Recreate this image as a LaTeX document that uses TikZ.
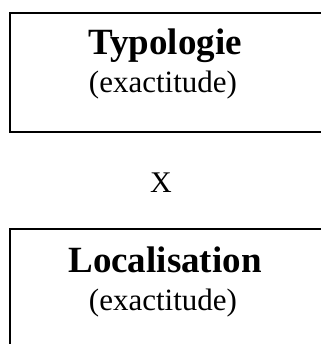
\documentclass[tikz,border=0pt]{standalone}
\usepackage{fontspec}
\setmainfont{Liberation Serif}
\begin{document}
\begin{tikzpicture}[x=1pt,y=-1pt,
  frame/.style={draw=black,line width=2pt,rectangle,inner sep=0pt,
    minimum width=320pt,minimum height=119.5pt,anchor=north west},
  title/.style={anchor=base,inner sep=0pt,font=\fontsize{37}{40}\selectfont\bfseries},
  sub/.style={anchor=base,inner sep=0pt,font=\fontsize{31}{34}\selectfont}]
  \useasboundingbox (0,0) rectangle (320,344);
  % upper box (its right side runs past the page edge)
  \node[frame] (typo) at (9,12) {};
  \node[title] (typot) at (165,55) {Typologie};
  \node[sub] (typos) at (163,93) {(exactitude)};
  % product sign
  \node[sub,font=\fontsize{30}{34}\selectfont] (times) at (161,193) {X};
  % lower box
  \node[frame] (loc) at (9,227.5) {};
  \node[title] (loct) at (165,272) {Localisation};
  \node[sub] (locs) at (163,310) {(exactitude)};
\end{tikzpicture}
\end{document}
